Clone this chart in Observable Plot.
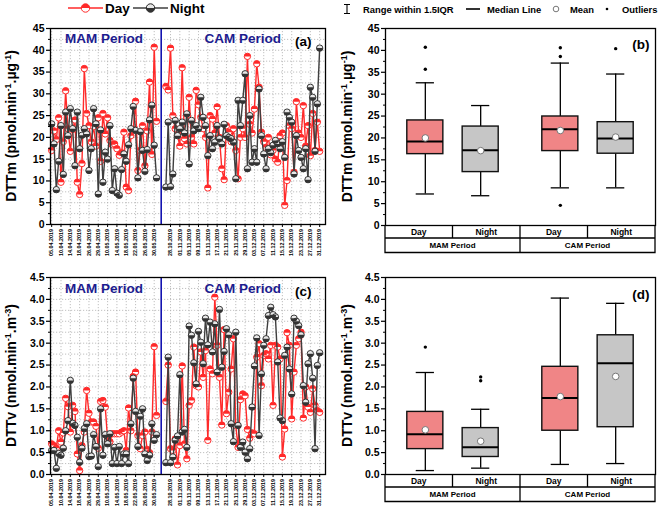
<!DOCTYPE html>
<html><head><meta charset="utf-8">
<script src="https://cdn.jsdelivr.net/npm/d3@7"></script>
<script src="https://cdn.jsdelivr.net/npm/@observablehq/plot@0.6"></script>
<style>
body{margin:0;background:#fff;}
#root{position:relative;width:661px;height:513px;overflow:hidden;font-family:"Liberation Sans",Arial,sans-serif;}
#root svg{position:absolute;overflow:visible;}
</style></head><body><div id="root"></div>
<script>
// ---------- data ----------
const mamTickLabels = ["05.04.2019","10.04.2019","14.04.2019","18.04.2019","26.04.2019","29.04.2019","10.05.2019","14.05.2019","18.05.2019","22.05.2019","26.05.2019","30.05.2019"];
const camTickLabels = ["28.10.2019","01.11.2019","05.11.2019","09.11.2019","13.11.2019","17.11.2019","21.11.2019","25.11.2019","29.11.2019","03.12.2019","07.12.2019","11.12.2019","15.12.2019","19.12.2019","23.12.2019","27.12.2019","31.12.2019"];

const dttmDayMAM = [17,21.5,19.5,24.5,9.7,19,30.7,22,16.8,21.8,24,9.7,6.9,14,35.8,25.5,22.7,19,22.5,18,24.5,14.5,25.5,20.8,24.5,19.3,18.3,18.5,17.4,15.9,16.5,21.2,8.6,7.8,20.4,21.8,28.3,12.4,17,22.7,13.5,21.5,32.7,16.1,40.7,23.7];
const dttmNightMAM = [23.1,18.5,8.0,14.5,22.7,11.5,25.8,20.4,26.6,22,13.5,25.8,17.4,20.5,22,20.8,12.4,17.4,26.6,23.1,7.0,21.7,9.7,16.6,15,22.7,7.8,12.8,7.2,6.7,12.6,16.2,14.5,18.3,22,27.1,21.6,10.7,21.3,17,12.2,17.2,24,27.4,18.2,10.7];
const dttmDayCAM = [31.7,30.9,40.5,25,22,20.5,18,36,19.7,18.5,29.2,20,18.5,30.8,27.5,24.6,22,20,8.4,25,24.2,21,27,20,12.8,10.3,22.7,21.2,19,22,17,10.5,20,22,20,38.6,23,21,26.5,36.9,31.5,21.2,19,17.7,20,16,17,15,14.3,20.4,21,4.4,10.1,22.7,22,12,28.2,21,20,27.3,18,22.7,15.8,25.5,17,23.5,16.8];
const dttmNightCAM = [8.6,23.5,8.7,11.6,23.9,20.4,22,23.5,21,25.4,13.9,23.9,21.5,22.7,22,29.2,24.6,22.7,15.8,20.4,17.4,18.9,22.7,19.7,18.5,23,20.4,20,19.7,18.9,10.5,28.5,22.7,28.5,34.6,12.8,25,14.3,17.4,14.3,31.1,20.4,16.2,12.8,17.4,16.5,18.2,19.3,18.5,17.4,19,15.4,25.8,24.6,23.5,11.6,20.4,17,15.4,12.8,17.4,10.3,31.5,29.2,16.8,27.7,40.5];

const dttvDayMAM = [0.7,0.66,0.6,1.0,0.74,0.95,1.74,1.55,0.97,1.58,1.44,0.47,0.09,0.66,0.97,1.92,1.4,1.2,1.2,1.1,0.6,1.67,1.69,1.54,0.8,0.75,0.93,0.93,0.93,0.93,0.97,1.0,0.55,1.52,1.0,2.24,2.34,0.89,0.59,0.89,0.97,0.57,0.5,0.97,2.92,1.35];
const dttvNightMAM = [0.55,0.55,0.14,0.48,0.44,0.6,1.0,1.23,2.15,1.17,1.12,0.85,0.28,0.6,1.05,1.16,0.41,0.42,0.91,0.64,0.18,1.5,0.44,0.91,0.7,0.93,0.25,0.62,0.25,0.64,0.25,0.47,0.47,0.25,1.16,2.2,1.44,0.64,1.33,1.5,0.47,0.32,0.44,1.16,0.78,0.91];
const dttvDayCAM = [1.67,2.5,0.59,0.55,0.81,0.22,0.66,2.48,0.7,0.36,1.58,1.69,2.91,2.03,2.0,2.8,2.22,2.83,0.78,2.41,2.3,4.05,2.95,2.22,1.13,3.31,1.39,1.88,2.41,3.1,1.12,0.62,1.71,1.84,1.8,1.03,0.83,0.95,0.93,2.68,2.99,2.03,2.72,2.76,2.64,2.95,1.58,2.95,2.91,2.64,0.4,1.04,3.24,2.95,1.27,2.34,2.95,3.1,3.25,1.29,2.0,1.54,1.42,1.96,1.58,1.46,1.42];
const dttvNightCAM = [0.27,2.68,0.27,0.4,0.78,0.88,2.28,0.97,1.03,0.62,3.39,3.18,2.55,2.07,3.27,3.02,2.53,3.57,2.96,3.48,2.8,3.44,2.34,3.77,2.45,2.81,3.33,3.19,1.16,0.75,3.25,1.12,0.62,0.74,0.51,0.36,0.59,1.54,2.48,3.12,0.89,2.3,2.95,3.1,3.63,3.82,3.65,3.6,2.57,1.29,1.23,2.72,2.91,2.41,1.84,3.57,3.5,3.4,3.19,2.03,1.65,2.53,2.76,2.2,0.59,2.49,2.78];

// box-plot summaries, order: MAM Day, MAM Night, CAM Day, CAM Night
const periods = ["MAM Period","CAM Period"];
const sessions = ["Day","Night"];
const dttmLow = [7.2,6.8,8.6,8.6];
const dttmQ1 = [16.3,12.2,17.0,16.4];
const dttmMedian = [19.2,17.2,22.0,19.9];
const dttmQ3 = [24.0,22.6,24.9,23.6];
const dttmHigh = [32.6,27.4,37.1,34.6];
const dttmMean = [20.0,17.1,21.7,20.2];
const dttmOutlierBox = [0,0,2,2,2,3];
const dttmOutlierValue = [35.7,40.7,40.6,38.6,4.6,40.4];

const dttvLow = [0.09,0.145,0.23,0.25];
const dttvQ1 = [0.58,0.40,1.0,1.08];
const dttvMedian = [0.92,0.625,1.75,2.54];
const dttvQ3 = [1.43,1.06,2.46,3.18];
const dttvHigh = [2.33,1.49,4.03,3.91];
const dttvMean = [1.02,0.76,1.78,2.24];
const dttvOutlierBox = [0,1,1];
const dttvOutlierValue = [2.91,2.23,2.14];

// ---------- styling ----------
const FONT = "Liberation Sans, Arial, sans-serif";
const RED = "#ff2a2a", DARK = "#3f3f3f", NAVY = "#1c1c8f";
const root = document.getElementById("root");
const halfTop = {draw(ctx, size){const r=Math.sqrt(size/Math.PI); ctx.moveTo(-r,0); ctx.arc(0,0,r,Math.PI,2*Math.PI); ctx.closePath();}};
const halfBottom = {draw(ctx, size){const r=Math.sqrt(size/Math.PI); ctx.moveTo(r,0); ctx.arc(0,0,r,0,Math.PI); ctx.closePath();}};

function place(el, left, top){ el.style.left = left+"px"; el.style.top = top+"px"; root.appendChild(el); }

function yLabel(svg, x, y, parts){
  const t = d3.select(svg).append("text")
    .attr("transform", `translate(${x},${y}) rotate(-90)`)
    .attr("text-anchor","middle").attr("font-family",FONT)
    .attr("font-size",14).attr("font-weight","bold").attr("fill","black");
  let shifted = false;
  parts.forEach(([s, sup]) => {
    const ts = t.append("tspan").text(s);
    if (sup) { ts.attr("font-size",9).attr("dy", -5); shifted = true; }
    else if (shifted) { ts.attr("dy", 5); shifted = false; }
  });
}

function linePanel(o){
  const camStart = o.dayM.length + 3;
  const rows = [];
  const add = (arr, s, p, off) => arr.forEach((v,i)=>rows.push({x:i+off, v, s, key:s+p}));
  add(o.dayM,"Day","M",0); add(o.dayC,"Day","C",camStart);
  add(o.nightM,"Night","M",0); add(o.nightC,"Night","C",camStart);
  const dayRows = rows.filter(d=>d.s==="Day"), nightRows = rows.filter(d=>d.s==="Night");
  const lastIdx = camStart + o.dayC.length - 1;
  const tickIdx = [...mamTickLabels.map((_,i)=>i*4), ...camTickLabels.map((_,i)=>camStart+2+i*4)];
  const tickText = new Map(tickIdx.map((t,i)=>[t, [...mamTickLabels,...camTickLabels][i]]));
  const divider = (o.dayM.length - 1 + camStart)/2;
  const yMajor = d3.range(0, o.yMax + 1e-9, o.yStep);
  const yMinor = d3.range(o.yStep/2, o.yMax, o.yStep);
  const grid = d3.range(o.yStep/2, o.yMax, o.yStep/2);
  const svg = Plot.plot({
    width:330, height:o.height, marginLeft:50, marginRight:5, marginTop:o.mt, marginBottom:o.mb,
    style:{background:"none", fontFamily:FONT, overflow:"visible"},
    x:{domain:[-0.5, lastIdx+2.5], axis:null},
    y:{domain:[0,o.yMax], axis:null},
    marks:[
      Plot.ruleY(grid, {stroke:"#b0b0b0", strokeDasharray:"1.2,1.8", strokeWidth:0.8}),
      Plot.ruleX(tickIdx, {stroke:"#b0b0b0", strokeDasharray:"1.2,1.8", strokeWidth:0.8}),
      Plot.line(dayRows, {x:"x", y:"v", z:"key", stroke:RED, strokeWidth:1.4}),
      Plot.dot(dayRows, {x:"x", y:"v", r:3.2, fill:"white", stroke:RED, strokeWidth:1}),
      Plot.dot(dayRows, {x:"x", y:"v", r:3.2, symbol:halfTop, fill:RED, stroke:"none"}),
      Plot.line(nightRows, {x:"x", y:"v", z:"key", stroke:DARK, strokeWidth:1.4}),
      Plot.dot(nightRows, {x:"x", y:"v", r:3.2, fill:"#e8e8e8", stroke:"#222", strokeWidth:0.9}),
      Plot.dot(nightRows, {x:"x", y:"v", r:3.2, symbol:halfBottom, fill:"#333", stroke:"none"}),
      Plot.ruleX([divider], {stroke:"#1313b0", strokeWidth:1.6}),
      Plot.text(["MAM Period"], {x:(o.dayM.length-1)/2, frameAnchor:"top", dy:o.titleDy, fontSize:13.5, fontWeight:"bold", fill:NAVY, lineAnchor:"middle"}),
      Plot.text(["CAM Period"], {x:(camStart+lastIdx)/2, frameAnchor:"top", dy:o.titleDy, fontSize:13.5, fontWeight:"bold", fill:NAVY, lineAnchor:"middle"}),
      Plot.text([o.tag], {frameAnchor:"top-right", dx:-14, dy:o.titleDy+3, fontSize:13.5, fontWeight:"bold", fill:"black", textAnchor:"end", lineAnchor:"middle"}),
      Plot.axisY(yMajor, {tickSize:4, tickPadding:2, fontSize:10.5, fontWeight:"bold", tickFormat:o.fmt, label:null, stroke:"black", strokeWidth:1.2}),
      Plot.axisY(yMinor, {tickSize:2, text:null, label:null, strokeWidth:1}),
      Plot.axisX(tickIdx, {tickSize:3, tickPadding:1.5, tickRotate:-90, fontSize:5.4, fontWeight:"bold", tickFormat:d=>tickText.get(d), label:null}),
      Plot.frame({stroke:"black", strokeWidth:1.3})
    ]
  });
  yLabel(svg, 16, o.mt + (o.height - o.mt - o.mb)/2, o.label);
  return svg;
}

function boxPanel(o){
  const boxes = o.q1.map((_,k)=>({
    k, x: 2*Math.floor(k/2) + 1 + (k%2 ? 0.41 : -0.41), day: k%2===0,
    lo:o.low[k], q1:o.q1[k], med:o.median[k], q3:o.q3[k], hi:o.high[k], mean:o.mean[k]
  }));
  const outl = o.outBox.map((b,i)=>({x:boxes[b].x, v:o.outVal[i]}));
  const hw = 0.267, cap = 0.135;
  const yMajor = d3.range(0, o.yMax + 1e-9, o.yStep);
  const yMinor = d3.range(o.yStep/2, o.yMax, o.yStep);
  const svg = Plot.plot({
    width:331, height:o.height, marginLeft:55, marginRight:6, marginTop:o.mt, marginBottom:o.mb,
    style:{background:"none", fontFamily:FONT, overflow:"visible"},
    x:{domain:[0,4], axis:null},
    y:{domain:[0,o.yMax], axis:null},
    marks:[
      Plot.ruleX(boxes, {x:"x", y1:"lo", y2:"q1", stroke:"black", strokeWidth:1.3}),
      Plot.ruleX(boxes, {x:"x", y1:"q3", y2:"hi", stroke:"black", strokeWidth:1.3}),
      Plot.ruleY(boxes, {y:"lo", x1:d=>d.x-cap, x2:d=>d.x+cap, stroke:"black", strokeWidth:1.3}),
      Plot.ruleY(boxes, {y:"hi", x1:d=>d.x-cap, x2:d=>d.x+cap, stroke:"black", strokeWidth:1.3}),
      Plot.rect(boxes, {x1:d=>d.x-hw, x2:d=>d.x+hw, y1:"q1", y2:"q3", fill:d=>d.day?"#f08586":"#c6c6c6", stroke:"#111", strokeWidth:1.4}),
      Plot.ruleY(boxes, {y:"med", x1:d=>d.x-hw, x2:d=>d.x+hw, stroke:"black", strokeWidth:2}),
      Plot.dot(boxes, {x:"x", y:"mean", r:3.3, fill:"white", stroke:"#777", strokeWidth:1}),
      Plot.dot(outl, {x:"x", y:"v", r:1.7, fill:"black", stroke:"none"}),
      Plot.text([o.tag], {frameAnchor:"top-right", dx:-6, dy:o.tagDy, fontSize:13.5, fontWeight:"bold", fill:"black", textAnchor:"end", lineAnchor:"middle"}),
      Plot.axisY(yMajor, {tickSize:4, tickPadding:2, fontSize:10.5, fontWeight:"bold", tickFormat:o.fmt, label:null, strokeWidth:1.2}),
      Plot.axisY(yMinor, {tickSize:2, text:null, label:null, strokeWidth:1}),
      Plot.frame({stroke:"black", strokeWidth:1.3})
    ]
  });
  // category table under the plot
  const xs = svg.scale("x");
  const L = 55, R = 331-6, top = o.height - o.mb, r1 = top + o.row1, r2 = r1 + o.row2;
  const g = d3.select(svg).append("g").attr("stroke","black").attr("stroke-width",1.3).attr("fill","none");
  g.append("path").attr("d", `M${L},${top}V${r2}H${R}V${top}M${L},${r1}H${R}`);
  [1,2,3].forEach(c => g.append("line").attr("x1",xs.apply(c)).attr("x2",xs.apply(c)).attr("y1",top).attr("y2",c===2?r2:r1));
  const tg = d3.select(svg).append("g").attr("font-family",FONT).attr("font-weight","bold").attr("text-anchor","middle").attr("fill","black");
  [0,1,2,3].forEach(c => tg.append("text").attr("x", xs.apply(c+0.5)).attr("y", top + o.row1/2 + 3).attr("font-size",8.5).text(sessions[c%2]));
  periods.forEach((p,i) => tg.append("text").attr("x", xs.apply(2*i+1)).attr("y", r1 + o.row2/2 + 3).attr("font-size",8).text(p));
  yLabel(svg, 22, o.mt + (o.height - o.mt - o.mb)/2, o.label);
  return svg;
}

// ---------- panels ----------
const lblM = [["DTTm (pmol.min",false],["-1",true],[".µg",false],["-1",true],[")",false]];
const lblV = [["DTTv (nmol.min",false],["-1",true],[".m",false],["-3",true],[")",false]];

place(linePanel({dayM:dttmDayMAM, nightM:dttmNightMAM, dayC:dttmDayCAM, nightC:dttmNightCAM,
  yMax:45, yStep:5, fmt:d3.format("d"), height:262, mt:28, mb:38, titleDy:10, tag:"(a)", label:lblM}), 0, 0);
place(linePanel({dayM:dttvDayMAM, nightM:dttvNightMAM, dayC:dttvDayCAM, nightC:dttvNightCAM,
  yMax:4.5, yStep:0.5, fmt:d3.format(".1f"), height:258, mt:22, mb:39, titleDy:11, tag:"(c)", label:lblV}), 0, 255);
place(boxPanel({low:dttmLow, q1:dttmQ1, median:dttmMedian, q3:dttmQ3, high:dttmHigh, mean:dttmMean,
  outBox:dttmOutlierBox, outVal:dttmOutlierValue, yMax:45, yStep:5, fmt:d3.format("d"),
  height:262, mt:28, mb:37, row1:13, row2:14.5, tag:"(b)", tagDy:16, label:lblM}), 330, 0);
place(boxPanel({low:dttvLow, q1:dttvQ1, median:dttvMedian, q3:dttvQ3, high:dttvHigh, mean:dttvMean,
  outBox:dttvOutlierBox, outVal:dttvOutlierValue, yMax:4.5, yStep:0.5, fmt:d3.format(".1f"),
  height:258, mt:22, mb:39, row1:13, row2:14.5, tag:"(d)", tagDy:17, label:lblV}), 330, 255);

// ---------- legends ----------
const leg = d3.create("svg").attr("width",661).attr("height",20).attr("font-family",FONT).attr("font-weight","bold").node();
const L = d3.select(leg);
function seriesKey(x1, x2, color, textX, label, day){
  L.append("line").attr("x1",x1).attr("x2",x2).attr("y1",8).attr("y2",8).attr("stroke",color).attr("stroke-width",1.6);
  const cx=(x1+x2)/2;
  L.append("circle").attr("cx",cx).attr("cy",8).attr("r",4.2).attr("fill",day?"white":"#e8e8e8").attr("stroke",day?RED:"#222");
  L.append("path").attr("transform",`translate(${cx},8)`).attr("d", d3.symbol(day?halfTop:halfBottom, Math.PI*4.2*4.2)()).attr("fill",day?RED:"#333");
  L.append("text").attr("x",textX).attr("y",13).attr("font-size",13.5).text(label);
}
seriesKey(68,103,RED,105,"Day",true);
seriesKey(133,168,DARK,170,"Night",false);
// box legend
L.append("path").attr("d","M344,4.5H350M347,4.5V13.5M344,13.5H350").attr("stroke","black").attr("stroke-width",1.1).attr("fill","none");
L.append("text").attr("x",363).attr("y",12.5).attr("font-size",9.4).text("Range within 1.5IQR");
L.append("line").attr("x1",466).attr("x2",480).attr("y1",9).attr("y2",9).attr("stroke","black").attr("stroke-width",1.6);
L.append("text").attr("x",487).attr("y",12.5).attr("font-size",9.4).text("Median Line");
L.append("circle").attr("cx",556).attr("cy",9).attr("r",2.8).attr("fill","white").attr("stroke","#777");
L.append("text").attr("x",570).attr("y",12.5).attr("font-size",9.4).text("Mean");
L.append("circle").attr("cx",607).attr("cy",9).attr("r",1.3).attr("fill","black");
L.append("text").attr("x",622).attr("y",12.5).attr("font-size",9.4).text("Outliers");
place(leg, 0, 0);
</script></body></html>
